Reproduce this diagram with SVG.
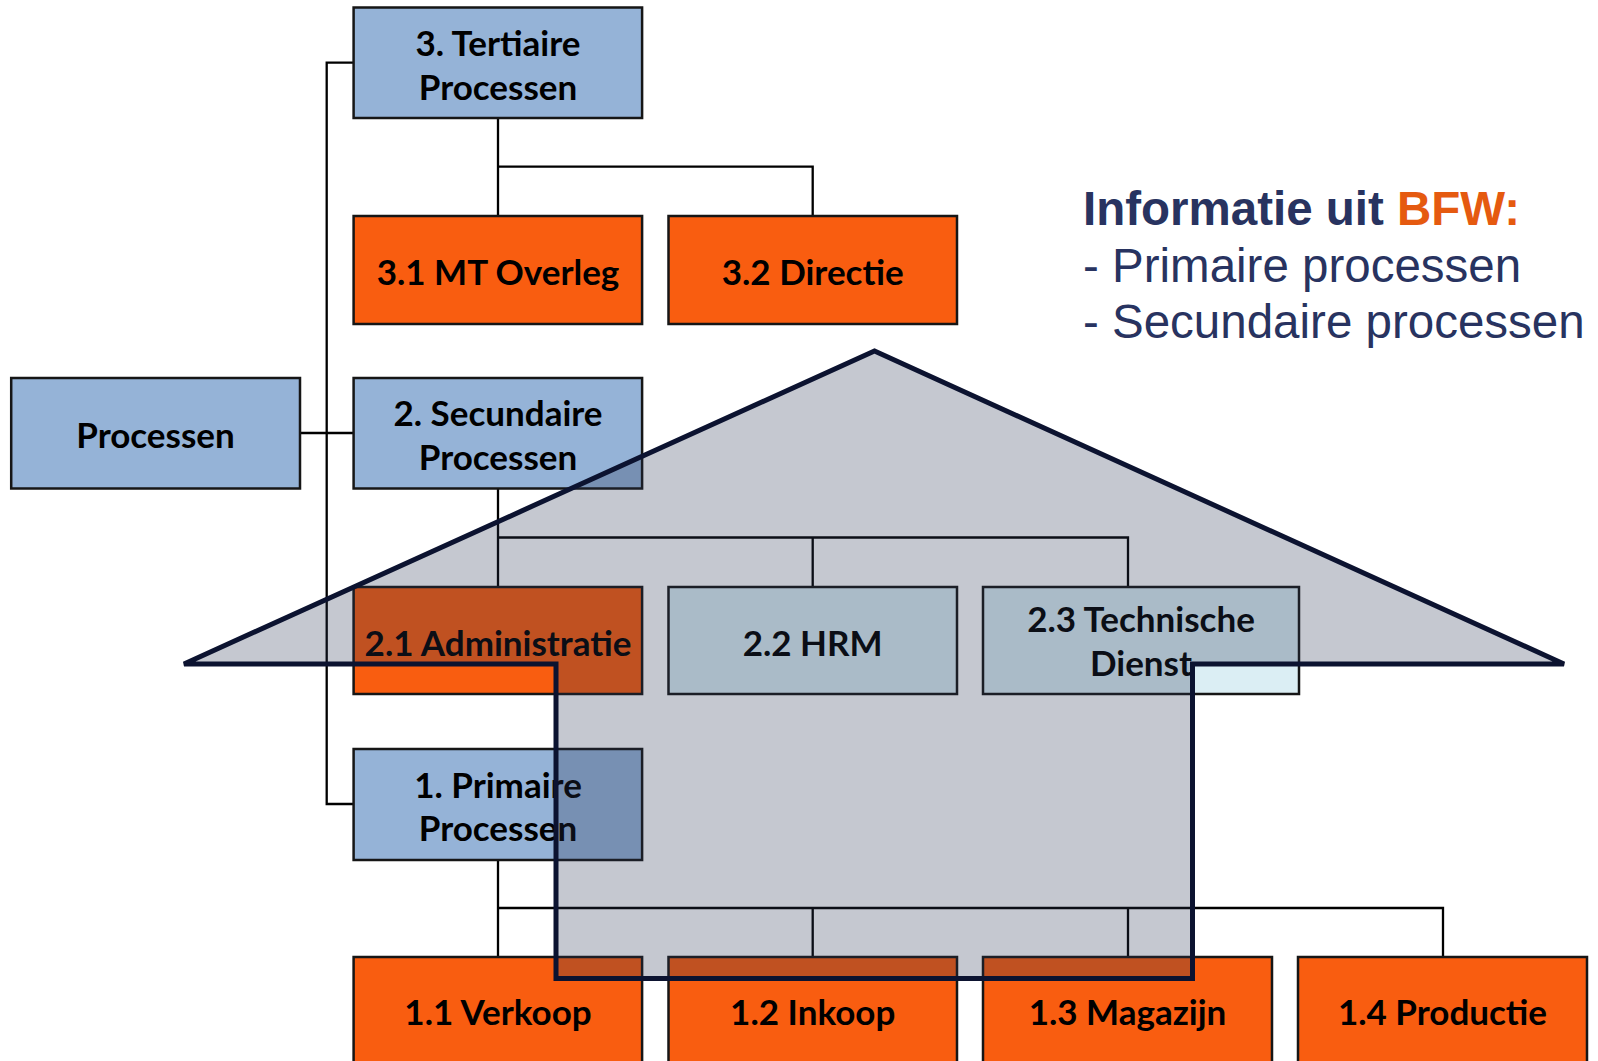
<svg xmlns="http://www.w3.org/2000/svg" width="1598" height="1061" viewBox="0 0 1598 1061">
<style>
.box{stroke:#161616;stroke-width:2.5}
.blue{fill:#95b3d7}
.orange{fill:#f95d10}
.cyan{fill:#dbeef4}
.lbl{font-family:Lato,"Open Sans",sans-serif;font-weight:bold;font-size:35px;fill:#000;text-anchor:middle}
.conn{fill:none;stroke:#000;stroke-width:2.3}
.info{font-family:"Liberation Sans",Arial,sans-serif;font-size:47.5px;fill:#283360}
</style>
<rect width="1598" height="1061" fill="#fff"/>
<g id="connectors" class="conn">
<path d="M353.6,62.7 H326.7 V804 H353.6"/>
<path d="M300,433 H353.6"/>
<path d="M498,118 V216 M498,166.7 H812.7 V216"/>
<path d="M498,489 V587 M498,537.5 H1128 V587 M812.7,537.5 V587"/>
<path d="M498,860 V957 M498,908 H1443 V957 M812.7,908 V957 M1128,908 V957"/>
</g>
<g id="n-processen"><rect class="box blue" x="11.2" y="378" width="288.8" height="110.5"/><text class="lbl" x="155.5" y="448">Processen</text></g>
<g id="n-3"><rect class="box blue" x="353.6" y="7.5" width="288.5" height="110.5"/><text class="lbl" x="498" y="56">3. Tertiaire</text><text class="lbl" x="498" y="100">Processen</text></g>
<g id="n-3-1"><rect class="box orange" x="353.6" y="216" width="288.5" height="108"/><text class="lbl" x="498" y="285">3.1 MT Overleg</text></g>
<g id="n-3-2"><rect class="box orange" x="668.5" y="216" width="288.5" height="108"/><text class="lbl" x="812.7" y="285">3.2 Directie</text></g>
<g id="n-2"><rect class="box blue" x="353.6" y="378" width="288.5" height="110.5"/><text class="lbl" x="498" y="425.5">2. Secundaire</text><text class="lbl" x="498" y="470">Processen</text></g>
<g id="n-2-1"><rect class="box orange" x="353.6" y="587" width="288.5" height="107"/><text class="lbl" x="498" y="656">2.1 Administratie</text></g>
<g id="n-2-2"><rect class="box cyan" x="668.5" y="587" width="288.5" height="107"/><text class="lbl" x="812.7" y="656">2.2 HRM</text></g>
<g id="n-2-3"><rect class="box cyan" x="983" y="587" width="316" height="107"/><text class="lbl" x="1141" y="632">2.3 Technische</text><text class="lbl" x="1141" y="676">Dienst</text></g>
<g id="n-1"><rect class="box blue" x="353.6" y="749" width="288.5" height="111"/><text class="lbl" x="498" y="798">1. Primaire</text><text class="lbl" x="498" y="841">Processen</text></g>
<g id="n-1-1"><rect class="box orange" x="353.6" y="957" width="288.5" height="110"/><text class="lbl" x="498" y="1025">1.1 Verkoop</text></g>
<g id="n-1-2"><rect class="box orange" x="668.5" y="957" width="288.5" height="110"/><text class="lbl" x="812.7" y="1025">1.2 Inkoop</text></g>
<g id="n-1-3"><rect class="box orange" x="983" y="957" width="289" height="110"/><text class="lbl" x="1127.5" y="1025">1.3 Magazijn</text></g>
<g id="n-1-4"><rect class="box orange" x="1298" y="957" width="289" height="110"/><text class="lbl" x="1442.5" y="1025">1.4 Productie</text></g>
<g id="house">
<path d="M184,664 L874.5,351 L1564,664 L1192.5,664 L1192.5,978.5 L556,978.5 L556,664 Z" fill="#283451" fill-opacity="0.27" stroke="#0c1330" stroke-width="5" stroke-linejoin="miter" stroke-miterlimit="4"/>
</g>
<g id="info">
<text class="info" x="1083" y="225" font-weight="bold">Informatie uit <tspan fill="#e55a10">BFW:</tspan></text>
<text class="info" x="1083" y="282">- Primaire processen</text>
<text class="info" x="1083" y="338">- Secundaire processen</text>
</g>
</svg>
